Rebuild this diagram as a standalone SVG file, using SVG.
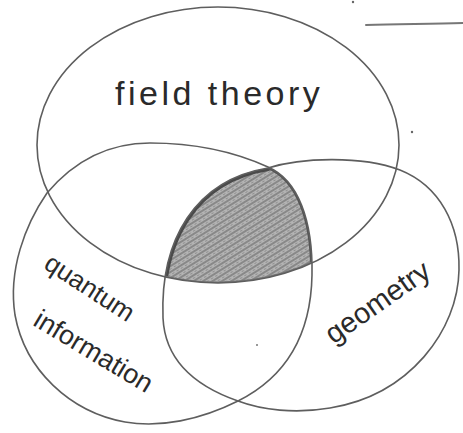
<svg xmlns="http://www.w3.org/2000/svg" width="463" height="433" viewBox="0 0 463 433">
  <style>
    .outline { fill: none; stroke: #5e5e5e; stroke-width: 1.6; stroke-linecap: round; stroke-linejoin: round; }
    .label { font-family: "Liberation Sans", "DejaVu Sans", sans-serif; fill: #2a2a2a; }
    .mark { fill: none; stroke: #777; stroke-width: 2; stroke-linecap: round; }
  </style>
  <defs>
    <path id="quantumShape" d="M 268,167 C 298,180 313,220 312,275 C 311,330 290,375 238,401 C 200,420 160,428 125,422 C 70,412 25,370 15,315 C 8,270 25,225 47,193 C 75,160 110,143 150,143 C 195,143 235,152 268,167 Z"/>
    <path id="geometryShape" d="M 268,168 C 300,158 360,155 400,170 C 440,186 460,225 459,270 C 458,330 410,395 330,408 C 295,414 262,410 238,401 C 195,386 165,360 163,318 C 160,240 195,180 268,168 Z"/>
    <ellipse id="fieldShape" cx="218" cy="145" rx="181" ry="138"/>
    <clipPath id="clipQ"><use href="#quantumShape"/></clipPath>
    <clipPath id="clipG"><use href="#geometryShape"/></clipPath>
    <clipPath id="clipF"><use href="#fieldShape"/></clipPath>
    <pattern id="hatch" width="5" height="5" patternUnits="userSpaceOnUse" patternTransform="rotate(-32)">
      <rect width="5" height="5" fill="#b4b4b4"/>
      <line x1="0" y1="1" x2="5" y2="1" stroke="#6a6a6a" stroke-width="1.2"/>
      <line x1="1" y1="3.5" x2="3.5" y2="3.5" stroke="#858585" stroke-width="0.8"/>
    </pattern>
  </defs>

  <g id="overlap-shading">
    <g clip-path="url(#clipF)">
      <g clip-path="url(#clipG)">
        <g clip-path="url(#clipQ)">
          <use href="#fieldShape" fill="url(#hatch)"/>
          <use href="#geometryShape" fill="none" stroke="#4a4a4a" stroke-width="6"/>
          <use href="#quantumShape" fill="none" stroke="#555" stroke-width="4"/>
          <use href="#fieldShape" fill="none" stroke="#777" stroke-width="3"/>
        </g>
      </g>
    </g>
  </g>

  <g id="node-field-theory">
    <use href="#fieldShape" class="outline"/>
    <text class="label" x="115" y="105" font-size="34" letter-spacing="3.5">field theory</text>
  </g>

  <g id="node-quantum-information">
    <use href="#quantumShape" class="outline"/>
    <text class="label" font-size="26" text-anchor="middle" transform="translate(85,295) rotate(33)">quantum</text>
    <text class="label" font-size="27" text-anchor="middle" transform="translate(89,359) rotate(31)">information</text>
  </g>

  <g id="node-geometry">
    <use href="#geometryShape" class="outline"/>
    <text class="label" font-size="29" text-anchor="middle" transform="translate(383,310) rotate(-35)">geometry</text>
  </g>

  <g id="stray-marks">
    <path class="mark" d="M 366,25 C 400,24 430,24 463,23"/>
    <circle cx="353" cy="2" r="1.2" fill="#666"/>
    <circle cx="412" cy="132" r="1.2" fill="#666"/>
    <circle cx="257" cy="345" r="1" fill="#777"/>
  </g>
</svg>
